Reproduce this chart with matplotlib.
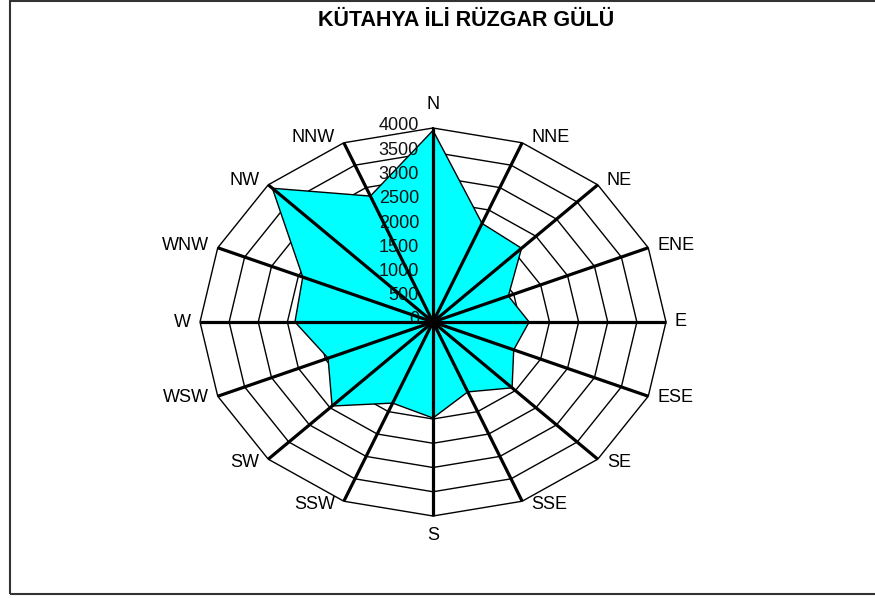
import numpy as np
import matplotlib
matplotlib.use("Agg")
import matplotlib.pyplot as plt
from matplotlib.patches import Rectangle

plt.rcParams['font.family'] = ['Liberation Sans', 'DejaVu Sans']

# wind rose data (frequency per direction)
directions = ['N', 'NNE', 'NE', 'ENE', 'E', 'ESE', 'SE', 'SSE',
              'S', 'SSW', 'SW', 'WSW', 'W', 'WNW', 'NW', 'NNW']
values = [3950, 2200, 2150, 1400, 1650, 1500, 1920, 1560,
          1980, 1810, 2450, 1950, 2370, 2420, 3900, 2810]
ring_levels = [500, 1000, 1500, 2000, 2500, 3000, 3500, 4000]
tick_labels = ['0', '500', '1000', '1500', '2000', '2500', '3000', '3500', '4000']
title = 'KÜTAHYA İLİ RÜZGAR GÜLÜ'

rmax = 4000
theta = np.deg2rad(np.arange(len(directions)) * 22.5)
sx, sy = np.sin(theta), np.cos(theta)

fig = plt.figure(figsize=(8.75, 5.98), dpi=100)
ax = fig.add_axes([200 / 875, 82 / 598, 466 / 875, 388 / 598])
ax.set_xlim(-rmax, rmax)
ax.set_ylim(-rmax, rmax)
ax.axis('off')

# polygon grid rings
for lev in ring_levels:
    ax.plot(np.append(sx, sx[0]) * lev, np.append(sy, sy[0]) * lev,
            color='black', lw=1.0, zorder=1, clip_on=False)

# data polygon
v = np.array(values)
ax.fill(sx * v, sy * v, facecolor='#00ffff', edgecolor='black', lw=1.0, zorder=2)

# spokes
for i in range(len(directions)):
    ax.plot([0, sx[i] * rmax], [0, sy[i] * rmax], color='black', lw=2.3,
            zorder=3, clip_on=False, solid_capstyle='butt')

# direction labels
for i, d in enumerate(directions):
    if abs(sx[i]) < 0.01:
        ha, dx = 'center', 0
        va, dy = ('bottom', 15) if sy[i] > 0 else ('top', -11)
    else:
        ha = 'left' if sx[i] > 0 else 'right'
        dx = 9 if sx[i] > 0 else -9
        va, dy = 'center', 6 * sy[i] if sy[i] > 0 else 4 * sy[i]
    ax.annotate(d, (sx[i] * rmax, sy[i] * rmax), xytext=(dx, dy),
                textcoords='offset pixels', ha=ha, va=va, fontsize=13,
                annotation_clip=False, zorder=5)

# radial tick labels along N axis
for j, lab in enumerate(tick_labels):
    ax.annotate(lab, (0, j * 500), xytext=(-14, 2), textcoords='offset pixels',
                ha='right', va='center', fontsize=13, color='#111111',
                annotation_clip=False, zorder=4)

fig.text(466 / 875, 1 - 20 / 598, title, ha='center', va='center',
         fontsize=15.5, fontweight='bold')

# outer frame
fig.patches.append(Rectangle((10 / 875, 4 / 598), 1.2, 1 - 4 / 598 - 0.5 / 598,
                             transform=fig.transFigure, fill=False,
                             edgecolor='#333333', lw=1.5))

fig.savefig('out.png', dpi=100)
